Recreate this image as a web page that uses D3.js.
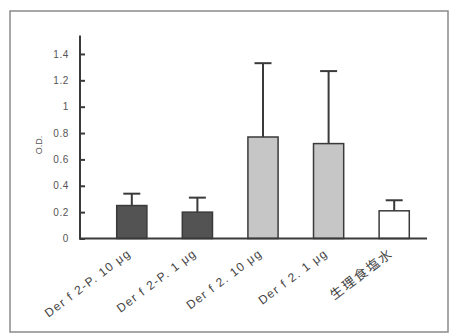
<!DOCTYPE html>
<html>
<head>
<meta charset="utf-8">
<script src="https://cdn.jsdelivr.net/npm/d3@7"></script>
<style>
  body { margin: 0; background: #fff; }
  svg { display: block; font-family: Arial, "Liberation Sans", sans-serif; }
</style>
</head>
<body>
<svg width="454" height="335"></svg>
<script>
// data
const groups = ["Der f 2-P. 10 μg", "Der f 2-P. 1 μg", "Der f 2. 10 μg", "Der f 2. 1 μg", "生理食塩水"];
const means = [0.25, 0.2, 0.77, 0.72, 0.21];
const upper = [0.34, 0.31, 1.33, 1.27, 0.29];   // top of error bar
const fills = ["#535353", "#535353", "#c6c6c6", "#c6c6c6", "#ffffff"];
const yTicks = [0, 0.2, 0.4, 0.6, 0.8, 1, 1.2, 1.4];

const svg = d3.select("svg"),
    width = +svg.attr("width"),
    height = +svg.attr("height");

const ink = "#3a3a3a";

// frame round the figure
svg.append("rect")
    .attr("x", 10).attr("y", 11)
    .attr("width", 438).attr("height", 321)
    .attr("fill", "none")
    .attr("stroke", "#8a8a8a")
    .attr("stroke-width", 1.5);

const y = d3.scaleLinear()
    .domain([0, 1.54])
    .range([238.5, 35.5]);

const x = d3.scaleBand()
    .domain(groups)
    .range([99, 427])
    .paddingInner(0.54)
    .paddingOuter(0.27);

// y axis, ticks pointing inward
const yAxis = svg.append("g")
    .attr("transform", "translate(80,0)")
    .call(d3.axisRight(y).tickValues(yTicks).tickSize(5).tickFormat(d3.format("")));
yAxis.select(".domain").remove();
yAxis.selectAll(".tick line").attr("stroke", ink).attr("stroke-width", 2);
yAxis.selectAll(".tick text")
    .attr("x", -11)
    .attr("text-anchor", "end")
    .attr("fill", "#555")
    .style("font-size", "10px")
    .style("letter-spacing", "0.6px");

svg.append("line")
    .attr("x1", 80).attr("x2", 80)
    .attr("y1", y.range()[1]).attr("y2", y(0) + 1)
    .attr("stroke", ink).attr("stroke-width", 2);

svg.append("text")
    .attr("transform", "translate(42,145) rotate(-90)")
    .attr("text-anchor", "middle")
    .attr("fill", "#555")
    .style("font-size", "9px")
    .text("O.D.");

// bars
svg.append("g")
    .selectAll("rect")
    .data(groups)
    .join("rect")
      .attr("x", d => x(d))
      .attr("y", (d, i) => y(means[i]))
      .attr("width", x.bandwidth())
      .attr("height", (d, i) => y(0) - y(means[i]))
      .attr("fill", (d, i) => fills[i])
      .attr("stroke", ink)
      .attr("stroke-width", 1.5);

// error bars (upper only)
const err = svg.append("g")
    .selectAll("g")
    .data(groups)
    .join("g")
      .attr("stroke", ink)
      .attr("stroke-width", 2);
err.append("line")
    .attr("x1", d => x(d) + x.bandwidth() / 2)
    .attr("x2", d => x(d) + x.bandwidth() / 2)
    .attr("y1", (d, i) => y(means[i]))
    .attr("y2", (d, i) => y(upper[i]));
err.append("line")
    .attr("x1", d => x(d) + x.bandwidth() / 2 - 8.5)
    .attr("x2", d => x(d) + x.bandwidth() / 2 + 8.5)
    .attr("y1", (d, i) => y(upper[i]))
    .attr("y2", (d, i) => y(upper[i]));

// x axis
svg.append("line")
    .attr("x1", 79).attr("x2", 427)
    .attr("y1", y(0)).attr("y2", y(0))
    .attr("stroke", ink).attr("stroke-width", 2);

const isCJK = d => /[\u4e00-\u9fff]/.test(d);
svg.append("g")
    .selectAll("text")
    .data(groups)
    .join("text")
      .attr("transform", d => `translate(${x(d) + x.bandwidth() / 2},255) rotate(-37)`)
      .attr("text-anchor", "end")
      .attr("fill", "#444")
      .style("font-size", d => isCJK(d) ? "13px" : "12px")
      .style("letter-spacing", d => isCJK(d) ? "2px" : "1.3px")
      .style("font-family", d => isCJK(d) ? "'Noto Sans CJK JP', sans-serif" : null)
      .text(d => d);
</script>
</body>
</html>
